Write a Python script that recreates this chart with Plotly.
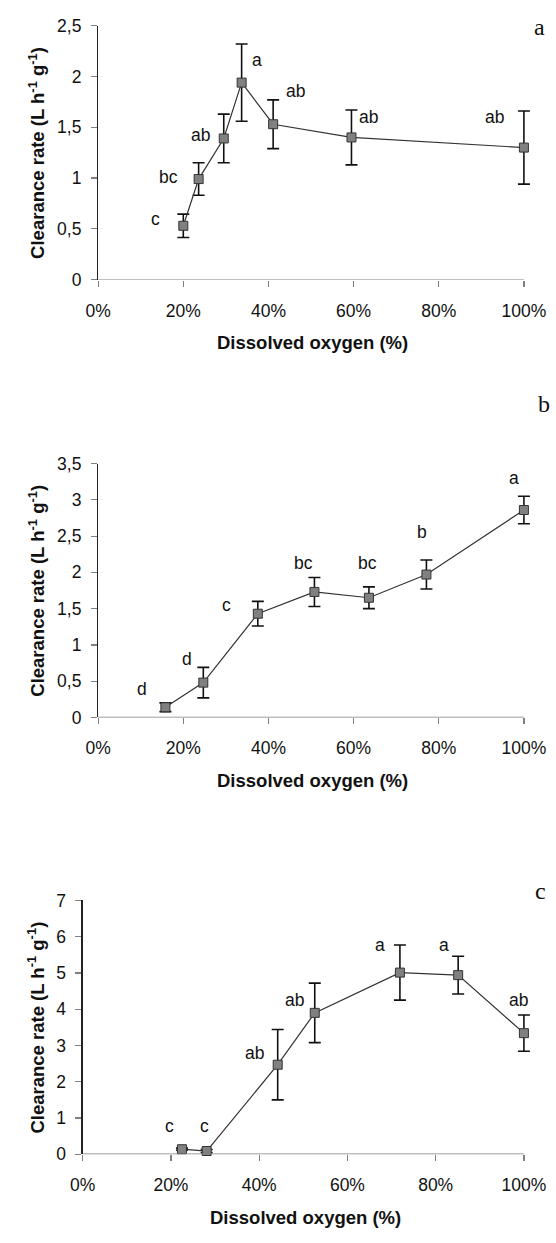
import plotly.graph_objects as go

# ---------------- data ----------------
# Panel a
oxy_a = [20.0, 23.6, 29.5, 33.7, 41.1, 59.5, 100.0]
cr_a = [0.53, 0.99, 1.39, 1.94, 1.53, 1.40, 1.30]
err_a = [0.115, 0.16, 0.24, 0.38, 0.24, 0.27, 0.36]
lbl_a = ["c", "bc", "ab", "a", "ab", "ab", "ab"]

# Panel b
oxy_b = [15.8, 24.7, 37.5, 50.8, 63.6, 77.1, 100.0]
cr_b = [0.14, 0.48, 1.43, 1.73, 1.65, 1.97, 2.86]
err_b = [0.06, 0.21, 0.17, 0.20, 0.15, 0.20, 0.19]
lbl_b = ["d", "d", "c", "bc", "bc", "b", "a"]

# Panel c
oxy_c = [22.5, 28.1, 44.2, 52.6, 71.9, 85.1, 100.0]
cr_c = [0.14, 0.09, 2.47, 3.90, 5.01, 4.94, 3.34]
err_c = [0.03, 0.04, 0.97, 0.82, 0.76, 0.52, 0.50]
lbl_c = ["c", "c", "ab", "ab", "a", "a", "ab"]

panel_letters = ["a", "b", "c"]
x_max = 100
y_ranges = [[0, 2.5], [0, 3.5], [0, 7]]
y_dticks = [0.5, 0.5, 1]

# label pixel offsets (dx, dy) relative to each point
offs_a = [(-28, -7), (-30, -2), (-23, -3), (15, -23), (22, -33), (17, -20), (-29, -31)]
offs_b = [(-23, -18), (-16, -24), (-31, -9), (-11, -29), (-1, -35), (-4, -43), (-10, -32)]
offs_c = [(-12, -23), (-2, -25), (-23, -12), (-20, -13), (-20, -28), (-14, -30), (-5, -33)]

# ---------------- layout geometry (px) ----------------
W, H = 556, 1243
plot_boxes = [  # left, right(=100%), top, bottom
    (88, 528, 16, 274),
    (88, 528, 461, 719),
    (72, 528, 905, 1163),
]
letter_pos = [(544, 17), (549, 400), (545, 895)]
XPAD = 1.04  # extra room right of 100% so error-bar caps are not clipped

FONT = "Arial, Liberation Sans, sans-serif"
TICK_SIZE = 17.5
TITLE_SIZE = 18.5

fig = go.Figure()
annotations = []
shapes = []

series = [
    (oxy_a, cr_a, err_a, lbl_a, offs_a),
    (oxy_b, cr_b, err_b, lbl_b, offs_b),
    (oxy_c, cr_c, err_c, lbl_c, offs_c),
]

for i, (xs, ys, es, lbls, offs) in enumerate(series):
    n = i + 1
    xa = "x" if n == 1 else f"x{n}"
    ya = "y" if n == 1 else f"y{n}"
    fig.add_trace(go.Scatter(
        x=xs, y=ys, xaxis=xa, yaxis=ya, mode="lines+markers",
        line=dict(color="#333333", width=1.2),
        marker=dict(symbol="square", size=9, color="#808080",
                    line=dict(color="#333333", width=1)),
        error_y=dict(type="data", array=es, visible=True,
                     color="#111111", thickness=1.6, width=6),
        showlegend=False, cliponaxis=False, hoverinfo="skip",
    ))
    L, R, T, B = plot_boxes[i]
    Rext = L + (R - L) * XPAD
    xdom = [L / W, Rext / W]
    ydom = [1 - B / H, 1 - T / H]
    xkey = "xaxis" if n == 1 else f"xaxis{n}"
    ykey = "yaxis" if n == 1 else f"yaxis{n}"
    fig.update_layout(**{
        xkey: dict(domain=xdom, range=[0, x_max * XPAD], dtick=20, tick0=0,
                   ticksuffix="%", showgrid=False, zeroline=False,
                   showline=False,
                   ticks="outside", ticklen=6, tickcolor="#808080",
                   tickwidth=1.2, anchor=ya, fixedrange=True,
                   ticklabelstandoff=9,
                   tickfont=dict(family=FONT, size=TICK_SIZE, color="#111111")),
        ykey: dict(domain=ydom, range=y_ranges[i], dtick=y_dticks[i],
                   tick0=0, showgrid=False, zeroline=False,
                   showline=True, linecolor="#222222", linewidth=1.2,
                   ticks="outside", ticklen=6, tickcolor="#808080",
                   tickwidth=1.2, anchor=xa, fixedrange=True,
                   ticklabelstandoff=6,
                   tickfont=dict(family=FONT, size=TICK_SIZE, color="#111111")),
    })
    # x axis line from 0% to 100% only
    shapes.append(dict(type="line", xref=xa, yref=ya, x0=0, x1=x_max,
                       y0=y_ranges[i][0], y1=y_ranges[i][0],
                       line=dict(color="#808080", width=1.4), layer="above"))
    # point letters
    for xv, yv, t, (dx, dy) in zip(xs, ys, lbls, offs):
        annotations.append(dict(
            x=xv, y=yv, xref=xa, yref=ya, text=t, showarrow=False,
            xshift=dx, yshift=-dy, xanchor="center", yanchor="middle",
            font=dict(family=FONT, size=TICK_SIZE, color="#111111")))
    # y title
    annotations.append(dict(
        x=24 / W, y=1 - (T + B) / 2 / H, xref="paper", yref="paper",
        text="<b>Clearance rate (L h<sup>-1</sup> g<sup>-1</sup>)</b>",
        textangle=-90, showarrow=False, xanchor="center", yanchor="middle",
        font=dict(family=FONT, size=TITLE_SIZE, color="#111111")))
    # x title
    annotations.append(dict(
        x=((L + R) / 2 + 2) / W, y=1 - (B + 64) / H, xref="paper", yref="paper",
        text="<b>Dissolved oxygen (%)</b>", showarrow=False,
        xanchor="center", yanchor="middle",
        font=dict(family=FONT, size=TITLE_SIZE, color="#111111")))
    # panel letter
    lx, ly = letter_pos[i]
    annotations.append(dict(
        x=lx / W, y=1 - ly / H, xref="paper", yref="paper",
        text=panel_letters[i], showarrow=False,
        xanchor="center", yanchor="middle",
        font=dict(family="Times New Roman, Liberation Serif, serif",
                  size=24, color="#111111")))

fig.update_layout(
    width=W, height=H, margin=dict(l=0, r=0, t=0, b=0),
    paper_bgcolor="white", plot_bgcolor="white",
    separators=", ", annotations=annotations, shapes=shapes,
    font=dict(family=FONT, color="#111111"), hovermode=False,
)

fig.write_html(
    "out.html",
    config={"displayModeBar": False, "staticPlot": True},
    post_script=(
        "document.documentElement.style.margin='0';"
        "document.documentElement.style.overflow='hidden';"
        "document.body.style.margin='0';"
        "document.body.style.padding='0';"
        "document.body.style.overflow='hidden';"
    ),
)
